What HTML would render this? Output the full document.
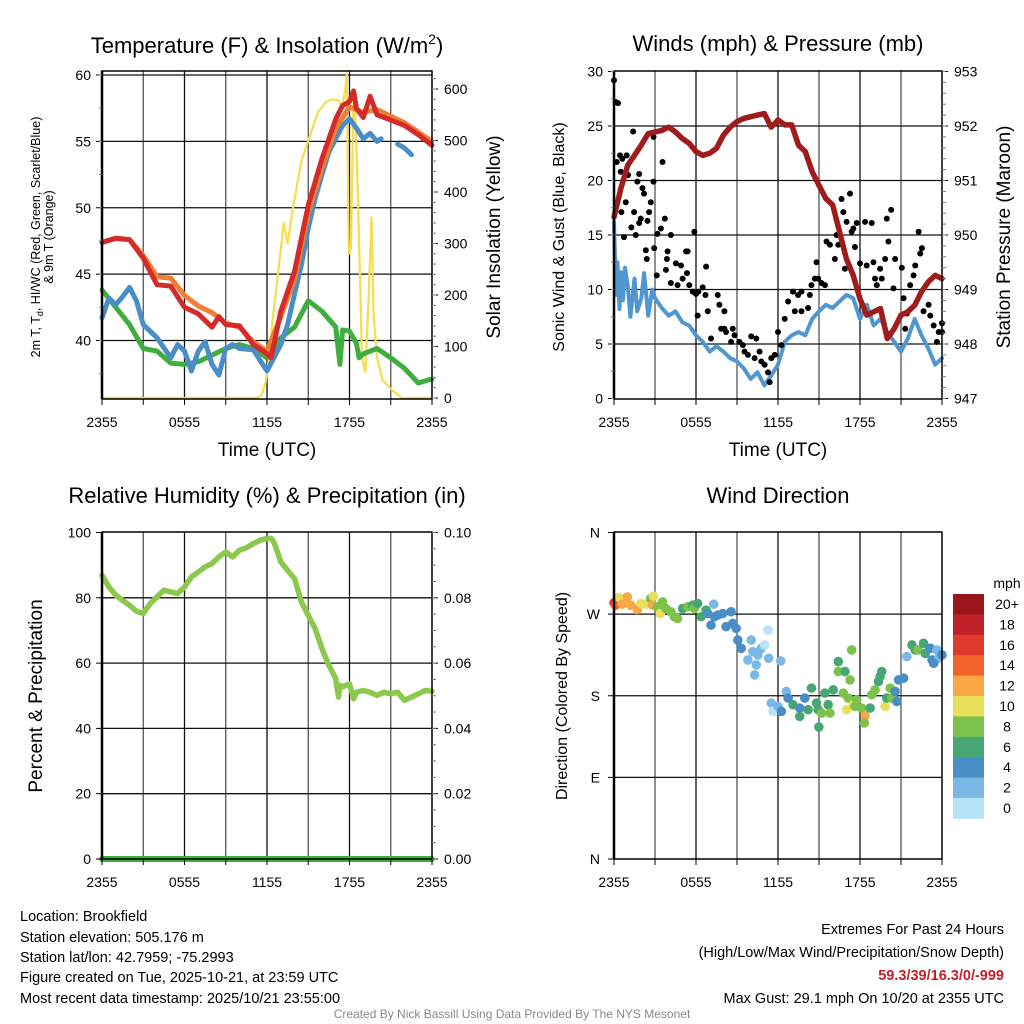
<!DOCTYPE html>
<html><head><meta charset="utf-8">
<style>
html,body{margin:0;padding:0;background:#fff;}
svg{display:block;font-family:"Liberation Sans",Arial,sans-serif;}
</style></head>
<body>
<svg id="root" width="1024" height="1024" viewBox="0 0 1024 1024" xmlns="http://www.w3.org/2000/svg">
<rect x="0" y="0" width="1024" height="1024" fill="#fff"/>
<text x="267" y="53" font-size="22" text-anchor="middle">Temperature (F) &amp; Insolation (W/m<tspan font-size="14" dy="-9">2</tspan><tspan dy="9">)</tspan></text>
<text x="778" y="45" font-size="22" text-anchor="middle" dominant-baseline="middle">Winds (mph) &amp; Pressure (mb)</text>
<text x="267" y="497" font-size="22" text-anchor="middle" dominant-baseline="middle">Relative Humidity (%) &amp; Precipitation (in)</text>
<text x="778" y="497" font-size="22" text-anchor="middle" dominant-baseline="middle">Wind Direction</text>
<g id="g1"></g>
<g id="g2"></g>
<g id="g3"></g>
<g id="g4"></g>
<g font-size="14.5">
<text x="20" y="921">Location: Brookfield</text>
<text x="20" y="942">Station elevation: 505.176 m</text>
<text x="20" y="962">Station lat/lon: 42.7959; -75.2993</text>
<text x="20" y="982">Figure created on Tue, 2025-10-21, at 23:59 UTC</text>
<text x="20" y="1003">Most recent data timestamp: 2025/10/21 23:55:00</text>
</g>
<g font-size="14.5" text-anchor="end">
<text x="1004" y="934">Extremes For Past 24 Hours</text>
<text x="1004" y="957">(High/Low/Max Wind/Precipitation/Snow Depth)</text>
<text x="1004" y="980" fill="#c0202a" font-weight="bold">59.3/39/16.3/0/-999</text>
<text x="1004" y="1003">Max Gust: 29.1 mph On 10/20 at 2355 UTC</text>
</g>
<text x="512" y="1018" font-size="12" fill="#888" text-anchor="middle">Created By Nick Bassill Using Data Provided By The NYS Mesonet</text>
</svg>
<script>
// ---- data ----
const timeTicks = ["2355","0555","1155","1755","2355"];
const tempTicks = [40,45,50,55,60];
const insolTicks = [0,100,200,300,400,500,600];
const windTicks = [0,5,10,15,20,25,30];
const presTicks = [947,948,949,950,951,952,953];
const rhTicks = [0,20,40,60,80,100];
const precipTicks = ["0.00","0.02","0.04","0.06","0.08","0.10"];
const dirTicks = ["N","E","S","W","N"];
const speedBins = ["0","2","4","6","8","10","12","14","16","18","20+"];
const speedColors = ["#b7e3f8","#7ab9e5","#4a8ec7","#46a775","#7dc24b","#e8e05a","#f9a744","#f2622b","#e03a2c","#c0202a","#98161c"];

const redT = [0,1,2,3,3.5,4,5,6,7,8,8.5,9,10,11,12,12.3,13,14,15,16,17,17.5,18,18.3,18.5,19,19.5,20,21,22,23,24];
const redV = [47.4,47.7,47.6,46.2,45.2,44.2,44.1,42.5,42.0,41.0,41.8,41.2,41.1,39.7,39.0,38.7,42.2,45.2,50.2,53.7,56.7,57.7,58.0,58.8,57.5,56.8,58.4,57.0,56.6,56.2,55.5,54.7];
const orangeT = [0,1,2,3,4,5,6,7,8,9,10,11,12,13,14,15,16,17,18,19,20,21,22,23,24];
const orangeV = [47.4,47.7,47.6,46.4,44.8,44.7,43.4,42.6,42.1,41.3,41.0,39.9,39.2,41.8,44.6,49.6,53.0,56.0,57.6,57.2,57.4,56.9,56.4,55.7,55.0];
const greenT = [0,1,2,3,4,5,6,7,8,9,10,11,12,13,14,15,16,17,17.3,17.5,18,18.5,18.7,19,20,21,22,23,24];
const greenV = [43.8,42.5,41.2,39.4,39.2,38.3,38.2,38.4,38.9,39.4,39.7,39.4,38.7,40.2,41.0,43.0,42.2,41.0,38.2,40.8,40.7,39.8,38.7,39.0,39.4,38.7,37.9,36.8,37.1];
const blueT = [0,0.5,1,1.5,2,2.5,3,4,5,5.5,6,6.5,7,7.5,8,8.5,9,9.5,10,11,12,12.5,13,13.5,14,14.5,15,15.5,16,16.5,17,17.5,18,18.5,19,19.5,20,20.3];
const blueV = [41.7,43.2,42.7,43.3,44.0,43.0,41.2,40.2,38.7,39.7,39.2,37.7,39.2,39.9,38.2,37.4,39.4,39.7,39.4,39.3,37.7,38.7,39.7,41.2,43.5,45.7,48.5,50.7,52.5,54.2,55.2,56.2,56.7,56.0,55.2,55.6,55.0,55.2];
const blue2T = [21.5,22,22.5];
const blue2V = [54.8,54.5,54.0];
const insolT = [0,11.2,11.6,11.9,12.2,12.4,13.1,13.2,13.5,13.9,14.5,15,15.7,16.3,16.7,17.2,17.45,17.7,17.8,17.95,18.1,18.3,18.4,18.55,18.8,18.9,19.15,19.4,19.6,19.75,20,20.4,21.1,21.8,24];
const insolV = [0,0,5,30,90,150,310,340,300,370,460,500,555,575,580,578,565,600,630,280,290,590,560,450,200,80,50,200,350,160,80,35,15,0,0];

const presT = [0,0.5,1,1.5,2,2.5,3,3.5,4,4.5,5,5.5,6,6.5,7,7.5,8,8.5,9,9.5,10,10.5,11,11.5,12,12.5,13,13.5,14,14.5,15,15.5,16,16.5,17,17.5,18,18.5,19,19.5,20,20.5,21,21.5,22,22.5,23,23.5,24];
const presV = [950.33,950.85,951.28,951.46,951.65,951.86,951.89,951.92,951.98,951.89,951.77,951.68,951.53,951.46,951.50,951.59,951.83,951.98,952.08,952.14,952.17,952.20,952.23,951.98,952.11,952.02,952.02,951.65,951.53,951.16,950.91,950.67,950.55,950.06,949.57,949.26,948.83,948.53,948.59,948.65,948.10,948.28,948.53,948.59,948.71,948.96,949.14,949.26,949.20];
const windT = [0,0.15,0.25,0.4,0.5,0.65,0.8,1,1.2,1.5,1.7,2,2.2,2.5,2.8,3,3.5,4,4.5,5,5.5,6,6.5,7,7.5,8,8.5,9,9.5,10,10.5,11,11.5,12,12.5,13,13.5,14,14.5,15,15.5,16,16.5,17,17.5,18,18.5,19,19.5,20,20.5,21,21.5,22,22.5,23,23.5,24];
const windV = [16.2,9.5,12.5,8.2,11.6,9.0,12.0,10.4,7.5,11.0,8.0,9.2,11.5,7.6,10.0,9.2,8.3,7.6,8.0,7.0,6.7,5.8,5.2,4.3,4.8,4.3,3.7,3.4,2.75,1.8,2.4,1.2,2.1,3.1,5.2,5.8,6.1,5.8,7.3,8.0,8.6,8.3,8.9,9.5,9.2,7.3,8.6,6.7,7.3,6.1,5.2,4.3,5.5,7.3,5.8,4.6,3.1,3.7];
const gustT = [0,0.12,0.29,0.2,0.44,0.61,0.93,0.49,1.03,0.86,0.54,0.73,1.4,1.84,1.71,2.08,2.2,2.69,2.57,2.45,1.96,1.47,1.84,1.27,1.59,2.89,2.89,3.55,3.72,3.18,3.43,4.16,5.88,2.33,2.4,2.94,3.13,3.92,3.87,3.8,4.16,4.53,4.65,4.9,5.02,5.27,5.39,5.34,5.51,5.76,6.0,6.17,6.49,6.74,6.69,6.12,6.86,7.59,7.71,7.1,7.84,8.08,8.08,8.2,8.69,8.82,8.57,9.18,9.43,9.55,10.04,10.41,9.8,10.29,10.65,10.78,11.02,11.27,11.51,11.76,11.39,12.0,12.25,12.49,12.74,13.1,13.47,13.72,13.23,13.72,14.2,14.33,14.45,14.7,14.82,14.94,15.18,15.43,15.55,15.8,16.16,16.29,16.41,16.65,16.78,17.02,17.27,17.39,17.51,17.76,17.63,16.9,18.0,18.37,18.49,18.86,18.98,19.1,19.23,19.47,19.59,19.84,19.96,20.28,20.08,20.45,20.57,21.06,21.19,21.31,21.43,21.67,21.92,22.04,22.29,22.41,22.53,22.65,23.02,23.14,23.39,23.63,23.76,24,24];
const gustV = [29.2,27.2,27.1,21.7,22.3,22.0,22.3,20.8,20.5,18.0,17.1,14.8,24.5,20.6,19.9,19.3,18.8,18.0,17.1,16.3,16.5,17.1,16.1,15.7,15.0,19.9,24.0,21.7,16.5,15.1,15.6,15.0,15.3,13.6,12.8,13.8,11.3,13.5,12.8,11.8,10.6,12.4,10.4,12.2,11.0,13.5,13.5,11.5,10.4,9.8,9.6,9.8,10.2,12.1,9.5,7.6,8.0,9.5,8.6,5.5,6.4,8.0,6.4,6.1,6.4,5.8,5.2,5.2,4.9,4.3,5.7,5.5,4.0,3.7,4.3,3.4,3.1,2.4,3.7,4.0,1.5,6.1,4.9,7.3,8.9,9.8,9.5,9.8,8.0,8.0,8.3,9.5,10.4,11.0,12.5,11.0,10.6,10.4,14.4,14.1,12.8,15.0,14.1,18.3,17.1,16.2,18.8,15.3,15.6,16.1,13.9,11.9,12.4,16.2,12.2,16.1,12.5,11.0,10.4,11.9,11.0,12.8,16.5,17.3,14.4,10.1,12.8,12.0,9.2,6.4,7.8,10.4,11.3,12.2,15.3,13.3,13.8,8.0,8.6,7.6,6.7,5.2,6.1,6.9,6.1];

const rhT = [0,0.5,1,1.5,2,2.5,3,3.5,4,4.5,5,5.5,6,6.5,7,7.5,8,8.5,9,9.5,10,10.5,11,11.5,12,12.3,12.5,13,13.5,14,14.5,15,15.5,16,16.5,17,17.2,17.3,17.5,18,18.3,18.5,19,19.5,20,20.5,21,21.5,22,22.5,23,23.5,24];
const rhV = [86.9,83.3,80.8,79.2,77.7,75.9,75.2,78.2,80.3,82.3,81.8,81.3,83.3,86.4,87.9,89.5,90.5,92.5,94.1,92.5,94.6,95.3,96.6,97.6,98.2,98.2,97.1,91.0,88.4,85.9,78.7,74.6,70.6,64.4,59.3,55.2,49.6,53.2,52.7,53.7,49.1,51.1,51.6,51.1,50.1,51.1,50.6,51.1,48.6,49.6,50.6,51.6,51.4];
const precipT = [0,24];
const precipV = [0,0];

const dirT = [0,0.12,0.37,0.61,0.98,1.22,1.71,1.96,2.33,2.69,2.89,2.82,3.18,3.38,3.55,3.8,4.16,4.41,4.65,5.02,5.39,5.76,5.88,6.12,6.37,6.74,6.86,7.1,7.3,7.35,7.59,7.96,8.2,8.57,8.69,8.94,9.06,9.31,10.04,9.8,10.16,10.41,10.29,10.53,10.78,11.02,11.27,11.32,12.2,11.51,11.63,12.0,12.25,12.61,12.74,13.1,13.59,13.59,13.96,14.2,14.45,14.82,14.94,14.99,15.18,15.43,15.67,15.8,16.04,16.41,16.41,16.9,16.78,17.02,17.14,17.27,17.39,17.51,17.63,17.76,18.12,18.37,18.32,18.74,18.86,19.1,19.35,19.47,19.59,19.84,19.96,20.21,20.33,20.57,20.7,20.82,21.19,21.43,21.8,22.04,22.24,22.65,22.78,23.14,23.27,23.63,23.76,24,23.39];
const dirV = [282.4,279.9,288.3,281.0,289.0,279.9,275.1,281.7,281.0,287.2,289.8,279.9,278.1,270.7,283.5,276.2,272.6,267.1,265.2,276.2,278.1,279.9,276.2,281.7,267.1,274.4,270.7,257.9,281.0,267.1,268.9,270.7,256.1,272.6,259.8,254.3,241.5,232.3,241.5,219.5,228.6,214.0,203.0,225.0,232.3,236.0,252.4,221.3,218.4,171.9,162.8,168.3,162.8,184.7,177.4,170.1,166.4,157.3,177.4,164.6,188.4,171.9,164.6,145.6,160.9,182.9,170.1,160.9,186.5,217.7,206.7,206.7,182.9,164.6,177.4,197.5,230.5,170.1,168.3,175.6,166.4,158.0,150.0,166.4,181.1,186.5,195.7,201.2,206.7,168.3,177.4,188.4,177.4,184.7,173.7,197.5,199.4,223.2,236.0,230.5,230.5,237.8,226.8,232.3,219.5,230.5,221.3,225.0,215.8];
const dirSpeed = [16,14,10,12,12,12,12,10,10,8,10,12,8,10,8,8,8,8,8,6,8,6,8,6,6,6,4,4,2,4,4,4,4,4,4,4,4,4,2,2,2,2,2,2,2,0,0,2,2,2,0,2,4,2,4,6,4,6,4,6,6,6,6,6,8,6,6,8,6,6,8,6,8,10,8,8,8,10,8,8,8,12,8,6,8,8,6,6,6,10,6,8,8,4,4,4,4,2,6,6,8,6,6,4,4,2,2,4,4];

// ---- helpers ----
const NS = "http://www.w3.org/2000/svg";
function mk(parent, tag, attrs, text){
  const e = document.createElementNS(NS, tag);
  for (const k in attrs) e.setAttribute(k, attrs[k]);
  if (text !== undefined) e.textContent = text;
  parent.appendChild(e);
  return e;
}
function linScale(d0,d1,r0,r1){ return v => r0 + (v-d0)/(d1-d0)*(r1-r0); }
function pathD(ts, vs, xs, ys){
  let d = "";
  for (let i=0;i<ts.length;i++) d += (i?"L":"M") + xs(ts[i]).toFixed(1) + "," + ys(vs[i]).toFixed(1);
  return d;
}

function frame(g, L, T, R, B, hLines, xs){
  // vertical grid every 3h
  for (let h=3; h<24; h+=3){
    const ln = mk(g,"line",{x1:xs(h),x2:xs(h),y1:T,y2:B,stroke:(h%6===0)?"#111":"#555","stroke-width":1.3});
    
    
  }
  hLines.forEach(y=>{
    const ln = mk(g,"line",{x1:L,x2:R,y1:y,y2:y,stroke:"#111","stroke-width":1.3});
    
    
  });
}
function border(g,L,T,R,B){
  const r = mk(g,"rect",{x:L,y:T,width:R-L,height:B-T,fill:"none",stroke:"#000","stroke-width":1.5});
  
  
  mk(g,"line",{x1:L,x2:L,y1:T,y2:B,stroke:"#000","stroke-width":2.5});
}
function xAxis(g, xs, B, labelText){
  for (let h=0; h<=24; h+=3){
    mk(g,"line",{x1:xs(h),x2:xs(h),y1:B,y2:B+6,stroke:"#000","stroke-width":1});
  }
  timeTicks.forEach((lab,i)=>{
    const t = mk(g,"text",{x:xs(i*6),y:B+28,"font-size":14,"text-anchor":"middle"},lab);
    
    
  });
  if (labelText){
    const t = mk(g,"text",{x:(xs(0)+xs(24))/2,y:B+57,"font-size":19,"text-anchor":"middle"},labelText);
    
    
  }
}
function yTicks(g, vals, ys, x, side, minorStep, lo, hi, labels){
  vals.forEach((v,i)=>{
    const y = ys(v);
    mk(g,"line",{x1:side<0?x-6:x,x2:side<0?x:x+6,y1:y,y2:y,stroke:"#000","stroke-width":1});
    const t = mk(g,"text",{x:side<0?x-11:x+12,y:y+5,"font-size":14,"text-anchor":side<0?"end":"start"},labels?labels[i]:String(v));
    
    
  });
  if (minorStep){
    for (let v=lo; v<=hi+1e-9; v+=minorStep){
      const y = ys(v);
      mk(g,"line",{x1:side<0?x-3:x,x2:side<0?x:x+4,y1:y,y2:y,stroke:"#777","stroke-width":1});
    }
  }
}
function yTitle(g, x, y, size, lines, name){
  const t = mk(g,"text",{x:x,y:y,"font-size":size,"text-anchor":"middle",transform:`rotate(-90 ${x} ${y})`});
  
  
  lines.forEach((ln,i)=>{ const s = mk(t,"tspan",{x:x,dy:i?size*1.15:0}); s.innerHTML = ln; });
  return t;
}
function series(g, ts, vs, xs, ys, color, w, name){
  const p = mk(g,"path",{d:pathD(ts,vs,xs,ys),fill:"none",stroke:color,"stroke-width":w,"stroke-linejoin":"round","stroke-linecap":"round"});
  
  
}

// ---- Panel 1 ----
(function(){
  const g = document.getElementById("g1");
  const L=102,R=432,T=71,B=399;
  const xs = linScale(0,24,L,R);
  const yT = linScale(40,60,340.5,75);
  const yI = linScale(0,600,398,89);
  frame(g,L,T,R,B,tempTicks.map(yT),xs);
  series(g,insolT,insolV,xs,yI,"#f8dc4a",2.2,"insolation-line");
  series(g,greenT,greenV,xs,yT,"#3fae3f",5,"dewpoint-line");
  series(g,blueT,blueV,xs,yT,"#4a8ec7",5,"heat-index-line");
  series(g,blue2T,blue2V,xs,yT,"#4a8ec7",5,"heat-index-line-late");
  series(g,orangeT,orangeV,xs,yT,"#f07f33",5,"temp-9m-line");
  series(g,redT,redV,xs,yT,"#d42a2a",5,"temp-2m-line");
  border(g,L,T,R,B);
  yTicks(g,tempTicks,yT,L,-1,2.5,37.5,60);
  yTicks(g,insolTicks,yI,R,1,20,0,620);
  xAxis(g,xs,B,"Time (UTC)");
  yTitle(g,40,237,12.5,["2m T, T<tspan font-size='9' dy='3'>d</tspan><tspan dy='-3'>, HI/WC (Red, Green, Scarlet/Blue)</tspan>"],"left-axis-title");
  yTitle(g,53,237,12.5,["&amp; 9m T (Orange)"],"left-axis-title-2");
  yTitle(g,500,237,19,["Solar Insolation (Yellow)"],"right-axis-title");
})();

// ---- Panel 2 ----
(function(){
  const g = document.getElementById("g2");
  const L=614,R=942,T=71,B=399;
  const xs = linScale(0,24,L,R);
  const yW = linScale(0,30,398.5,71.5);
  const yP = linScale(947,953,398.5,71.5);
  frame(g,L,T,R,B,windTicks.slice(1,6).map(yW),xs);
  series(g,windT,windV,xs,yW,"#5096d0",4,"sonic-wind-line");
  gustT.forEach((t,i)=>{
    const c = mk(g,"circle",{cx:xs(t),cy:yW(gustV[i]),r:3,fill:"#000"});
    
    
  });
  series(g,presT,presV,xs,yP,"#a01c1c",5.5,"pressure-line");
  border(g,L,T,R,B);
  yTicks(g,windTicks,yW,L,-1,2.5,0,30);
  yTicks(g,presTicks,yP,R,1,0.2,947,953);
  xAxis(g,xs,B,"Time (UTC)");
  yTitle(g,564,237,16,["Sonic Wind &amp; Gust (Blue, Black)"],"left-axis-title");
  yTitle(g,1010,237,19,["Station Pressure (Maroon)"],"right-axis-title");
})();

// ---- Panel 3 ----
(function(){
  const g = document.getElementById("g3");
  const L=102,R=432,T=532,B=859;
  const xs = linScale(0,24,L,R);
  const yR = linScale(0,100,859,532.5);
  const yPr = linScale(0,0.10,859,532.5);
  frame(g,L,T,R,B,rhTicks.slice(1,5).map(yR),xs);
  series(g,rhT,rhV,xs,yR,"#8cc84b",5.5,"humidity-line");
  series(g,precipT,precipV,xs,yPr,"#3fae3f",6,"precip-line");
  border(g,L,T,R,B);
  yTicks(g,rhTicks,yR,L,-1,0,0,0);
  const pv=[0,0.02,0.04,0.06,0.08,0.10];
  yTicks(g,pv,yPr,R,1,0.005,0,0.1,precipTicks);
  xAxis(g,xs,B,null);
  yTitle(g,42,696,19,["Percent &amp; Precipitation"],"left-axis-title");
})();

// ---- Panel 4 ----
(function(){
  const g = document.getElementById("g4");
  const L=614,R=942,T=532,B=859;
  const xs = linScale(0,24,L,R);
  const yD = linScale(0,360,859,532.5);
  frame(g,L,T,R,B,[90,180,270].map(yD),xs);
  dirT.forEach((t,i)=>{
    const bin = Math.min(10, Math.floor(dirSpeed[i]/2));
    const c = mk(g,"circle",{cx:xs(t),cy:yD(dirV[i]),r:4.8,fill:speedColors[bin]});
    
    
  });
  border(g,L,T,R,B);
  dirTicks.forEach((lab,i)=>{
    const y = yD(i*90);
    mk(g,"line",{x1:L-6,x2:L,y1:y,y2:y,stroke:"#000","stroke-width":1});
    const t = mk(g,"text",{x:L-14,y:y+5,"font-size":14,"text-anchor":"end"},lab);
    
    
  });
  xAxis(g,xs,B,null);
  yTitle(g,567,696,16,["Direction (Colored By Speed)"],"left-axis-title");
  // colorbar
  const cb = mk(g,"g",{});
  
  
  const top=594, h=20.4;
  const ml = mk(cb,"text",{x:1007,y:588,"font-size":14,"text-anchor":"middle"},"mph");
  
  
  for (let k=0;k<speedBins.length;k++){
    const idx = speedBins.length-1-k;
    const r = mk(cb,"rect",{x:953,y:top+k*h,width:31,height:h+0.5,fill:speedColors[idx]});
    
    
    const t = mk(cb,"text",{x:1007,y:top+k*h+15,"font-size":14,"text-anchor":"middle"},speedBins[idx]);
    
    
  }
})();
</script>
</body></html>
